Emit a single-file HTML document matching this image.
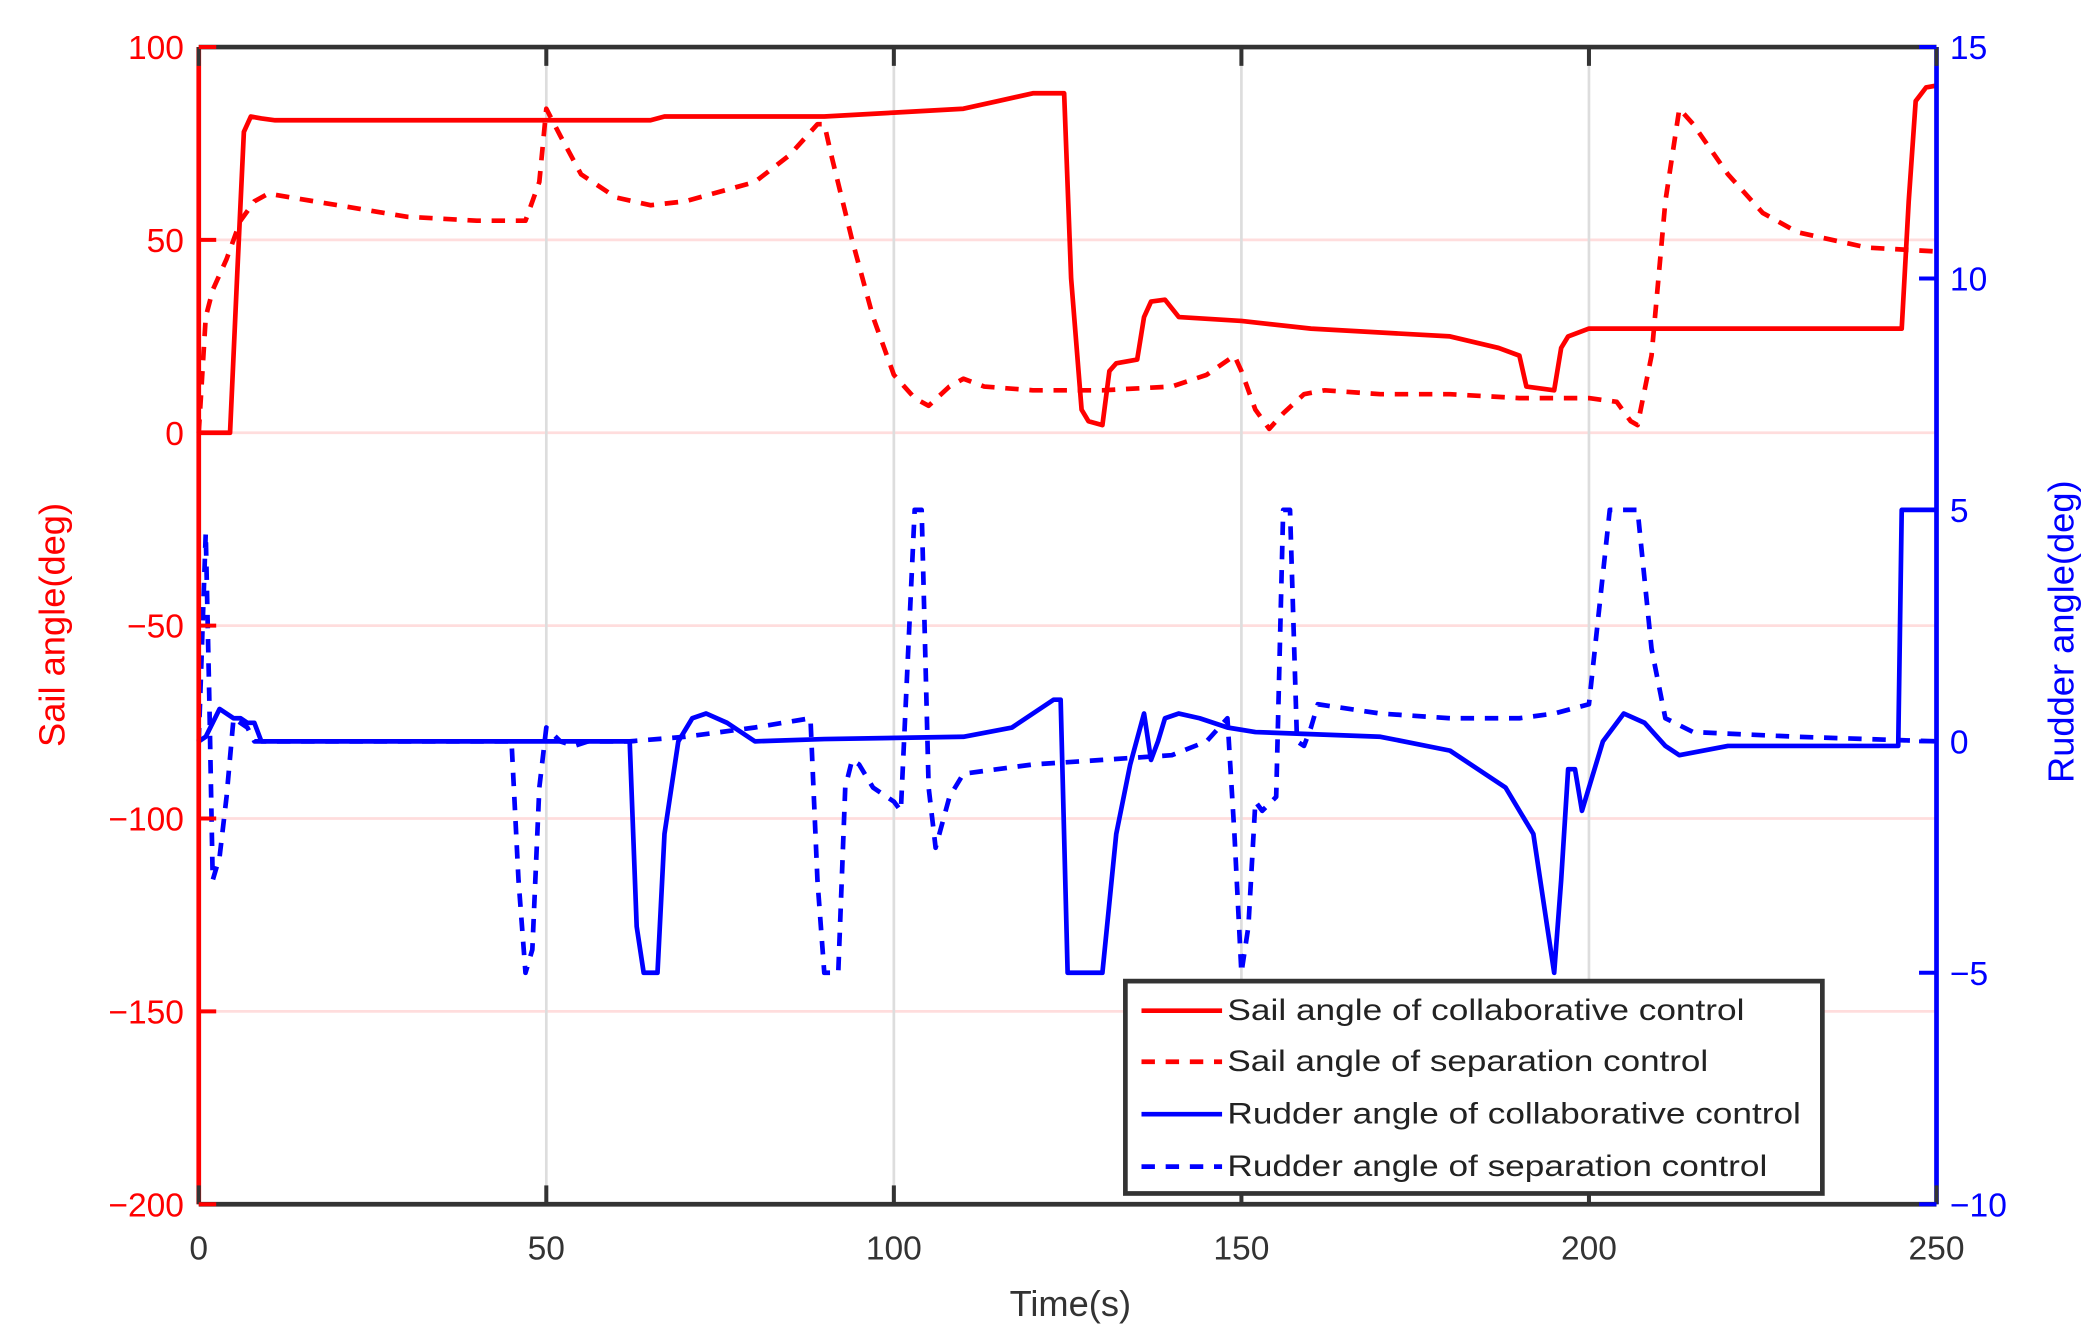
<!DOCTYPE html>
<html><head><meta charset="utf-8"><style>
html,body{margin:0;padding:0;background:#fff;}
svg{display:block;}
text{font-family:"Liberation Sans",sans-serif;}
</style></head><body>
<svg id="s" width="2099" height="1344" viewBox="0 0 1563 1000" preserveAspectRatio="none" xmlns="http://www.w3.org/2000/svg">
<rect width="1563" height="1000" fill="#fff"/>
<g id="grid"></g>
<g id="series"></g>
<g id="axes"></g>
<g id="legend">
<rect x="838" y="730" width="519" height="158" fill="#fff" stroke="#333" stroke-width="3.5"/>
<line x1="850" y1="752" x2="910" y2="752" stroke="#f00" stroke-width="3.5"/>
<line x1="850" y1="790" x2="910" y2="790" stroke="#f00" stroke-width="3.5" stroke-dasharray="10,8"/>
<line x1="850" y1="829" x2="910" y2="829" stroke="#00f" stroke-width="3.5"/>
<line x1="850" y1="868" x2="910" y2="868" stroke="#00f" stroke-width="3.5" stroke-dasharray="10,8"/>
<g font-size="22" fill="#222">
<text x="914" y="759" textLength="385" lengthAdjust="spacingAndGlyphs">Sail angle of collaborative control</text>
<text x="914" y="797" textLength="358" lengthAdjust="spacingAndGlyphs">Sail angle of separation control</text>
<text x="914" y="836" textLength="427" lengthAdjust="spacingAndGlyphs">Rudder angle of collaborative control</text>
<text x="914" y="875" textLength="402" lengthAdjust="spacingAndGlyphs">Rudder angle of separation control</text>
</g>
</g>
</svg>
<script>
var NS="http://www.w3.org/2000/svg";
var X0=148,X1=1442,YT=35,YB=896;
function X(t){return X0+(X1-X0)*t/250;}
function YL(v){return YT+(100-v)*(YB-YT)/300;}
function YR(v){return YT+(15-v)*(YB-YT)/25;}
function el(p,n,a,txt){var e=document.createElementNS(NS,n);for(var k in a)e.setAttribute(k,a[k]);if(txt!==undefined)e.textContent=txt;p.appendChild(e);return e;}
var g=document.getElementById('grid'),ax=document.getElementById('axes'),se=document.getElementById('series');
[50,0,-50,-100,-150].forEach(function(v){el(g,'line',{x1:X0,x2:X1,y1:YL(v),y2:YL(v),stroke:'#fdd',"stroke-width":2});});
[50,100,150,200].forEach(function(t){el(g,'line',{x1:X(t),x2:X(t),y1:YT,y2:YB,stroke:'#ddd',"stroke-width":2});});
function path(d,fy,col,dash){var s='';d.forEach(function(p,i){s+=(i?'L':'M')+X(p[0]).toFixed(1)+','+fy(p[1]).toFixed(1);});
var a={d:s,fill:'none',stroke:col,"stroke-width":3.5,"stroke-linejoin":'round'};if(dash)a["stroke-dasharray"]='10,8';el(se,'path',a);}
var sc=[[0,0],[4.5,0],[5.5,40],[6.5,78],[7.5,82],[9,81.5],[11,81],[65,81],[67,82],[90,82],[100,83],[110,84],[115,86],[120,88],[124.5,88],[125.5,40],[127,6],[128,3],[130,2],[131,16],[132,18],[135,19],[136,30],[137,34],[139,34.5],[141,30],[150,29],[160,27],[180,25],[187,22],[190,20],[191,12],[195,11],[196,22],[197,25],[200,27],[245,27],[246,60],[247,86],[248.5,89.5],[250,90]];
var ss=[[0,0],[0.5,15],[1,30],[2,37],[4,45],[5,50],[6,55],[8,60],[10,62],[20,59],[30,56],[40,55],[47,55],[49,65],[50,84],[52,77],[55,67],[60,61],[65,59],[70,60],[80,65],[85,72],[89,80],[90,80],[91,72],[94,50],[97,30],[100,15],[103,9],[105,7],[108,12],[110,14],[113,12],[120,11],[130,11],[140,12],[145,15],[149,20],[150,16],[152,6],[154,1],[156,5],[159,10],[162,11],[170,10],[180,10],[190,9],[200,9],[204,8],[206,3],[207,2],[209,20],[211,60],[213,84],[215,80],[220,67],[225,57],[230,52],[240,48],[250,47]];
var rc=[[0,0],[1,0.1],[3,0.7],[5,0.5],[6,0.5],[7,0.4],[8,0.4],[9,0],[10,0],[62,0],[63,-4],[64,-5],[66,-5],[67,-2],[69,0],[71,0.5],[73,0.6],[76,0.4],[80,0],[90,0.05],[110,0.1],[117,0.3],[123,0.9],[124,0.9],[125,-5],[130,-5],[132,-2],[134,-0.5],[136,0.6],[137,-0.4],[138,0],[139,0.5],[141,0.6],[144,0.5],[148,0.3],[152,0.2],[170,0.1],[180,-0.2],[188,-1],[192,-2],[194,-4],[195,-5],[196,-3],[197,-0.6],[198,-0.6],[199,-1.5],[200,-1],[202,0],[205,0.6],[208,0.4],[211,-0.1],[213,-0.3],[220,-0.1],[244.5,-0.1],[245,5],[250,5]];
var rs=[[0,0],[1,4.5],[1.5,1],[2,-3],[3,-2.5],[4,-1.2],[5,0.5],[7,0.3],[8,0],[45,0],[46,-3],[47,-5],[48,-4.5],[49,-1],[50,0.3],[52,0],[54,-0.1],[56,0],[62,0],[70,0.1],[80,0.3],[88,0.5],[89,-3],[90,-5],[92,-5],[93,-1],[94,-0.4],[95,-0.5],[97,-1],[100,-1.3],[101,-1.5],[103,5],[104,5],[105,-1],[106,-2.3],[108,-1.2],[110,-0.7],[120,-0.5],[130,-0.4],[140,-0.3],[145,0],[148,0.5],[149,-2],[150,-5],[151,-4],[152,-1.3],[153,-1.5],[155,-1.2],[156,5],[157,5],[158,0],[159,-0.1],[160,0.3],[161,0.8],[170,0.6],[180,0.5],[190,0.5],[195,0.6],[200,0.8],[203,5],[207,5],[209,2],[211,0.5],[215,0.2],[230,0.1],[250,0]];
path(sc,YL,'#f00',false);path(ss,YL,'#f00',true);path(rc,YR,'#00f',false);path(rs,YR,'#00f',true);
el(ax,'line',{x1:X0,x2:X1,y1:YT,y2:YT,stroke:'#333',"stroke-width":3.5});
el(ax,'line',{x1:X0,x2:X1,y1:YB,y2:YB,stroke:'#333',"stroke-width":3.5});
el(ax,'line',{x1:X0,x2:X0,y1:YT,y2:YB,stroke:'#f00',"stroke-width":3.5});
el(ax,'line',{x1:X1,x2:X1,y1:YT,y2:YB,stroke:'#00f',"stroke-width":3.5});
[0,50,100,150,200,250].forEach(function(t){
el(ax,'line',{x1:X(t),x2:X(t),y1:YT,y2:YT+14,stroke:'#333',"stroke-width":3});
el(ax,'line',{x1:X(t),x2:X(t),y1:YB,y2:YB-14,stroke:'#333',"stroke-width":3});
el(ax,'text',{x:X(t),y:937,"font-size":25,fill:'#333',"text-anchor":'middle'},String(t));});
[100,50,0,-50,-100,-150,-200].forEach(function(v){
el(ax,'line',{x1:X0,x2:X0+13,y1:YL(v),y2:YL(v),stroke:'#f00',"stroke-width":3});
el(ax,'text',{x:137,y:YL(v)+9,"font-size":25,fill:'#f00',"text-anchor":'end'},v<0?'\u2212'+(-v):String(v));});
[15,10,5,0,-5,-10].forEach(function(v){
el(ax,'line',{x1:X1-13,x2:X1,y1:YR(v),y2:YR(v),stroke:'#00f',"stroke-width":3});
el(ax,'text',{x:1452,y:YR(v)+9,"font-size":25,fill:'#00f'},v<0?'\u2212'+(-v):String(v));});
el(ax,'text',{x:797,y:979,"font-size":27,fill:'#333',"text-anchor":'middle'},'Time(s)');
el(ax,'text',{x:0,y:0,"font-size":27,fill:'#f00',"text-anchor":'middle',transform:'translate(48,465) rotate(-90)'},'Sail angle(deg)');
el(ax,'text',{x:0,y:0,"font-size":27,fill:'#00f',"text-anchor":'middle',transform:'translate(1544,470) rotate(-90)'},'Rudder angle(deg)');
</script>
</body></html>
